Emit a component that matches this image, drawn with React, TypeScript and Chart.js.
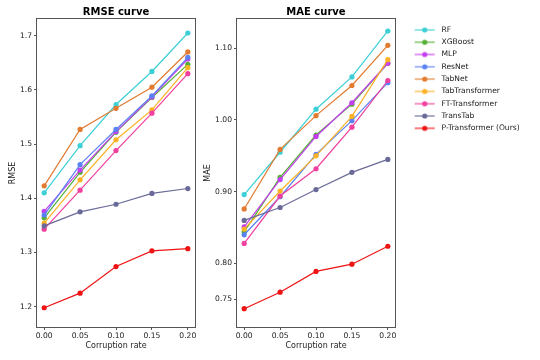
import React, { useEffect, useRef } from 'react';
import { Chart, registerables } from 'chart.js';

Chart.register(...registerables);

// ---------------- data ----------------
const corruptionRates = [0, 0.05, 0.1, 0.15, 0.2];
const xTickValues = [0, 0.05, 0.1, 0.15, 0.2];
const rmseTickValues = [1.2, 1.3, 1.4, 1.5, 1.6, 1.7];
const maeTickValues = [0.75, 0.8, 0.9, 1.0, 1.1];

const methodNames = [
  'RF',
  'XGBoost',
  'MLP',
  'ResNet',
  'TabNet',
  'TabTransformer',
  'FT-Transformer',
  'TransTab',
  'P-Transformer (Ours)',
];
const methodColors = [
  '#3ccfd6',
  '#55b035',
  '#c43ef0',
  '#5a82f2',
  '#e27b30',
  '#fbb123',
  '#f03f9f',
  '#6a6a99',
  '#ee1414',
];

const rmseRF = [1.410, 1.497, 1.573, 1.634, 1.705];
const rmseXGBoost = [1.364, 1.448, 1.522, 1.586, 1.647];
const rmseMLP = [1.376, 1.452, 1.523, 1.587, 1.657];
const rmseResNet = [1.369, 1.462, 1.527, 1.589, 1.660];
const rmseTabNet = [1.423, 1.527, 1.566, 1.605, 1.670];
const rmseTabTransformer = [1.354, 1.434, 1.508, 1.563, 1.641];
const rmseFTTransformer = [1.343, 1.415, 1.488, 1.557, 1.630];
const rmseTransTab = [1.349, 1.375, 1.389, 1.409, 1.418];
const rmsePTransformer = [1.198, 1.225, 1.274, 1.303, 1.307];

const maeRF = [0.896, 0.955, 1.015, 1.060, 1.124];
const maeXGBoost = [0.844, 0.920, 0.979, 1.022, 1.079];
const maeMLP = [0.851, 0.917, 0.977, 1.024, 1.079];
const maeResNet = [0.840, 0.893, 0.952, 0.999, 1.052];
const maeTabNet = [0.876, 0.959, 1.006, 1.048, 1.104];
const maeTabTransformer = [0.848, 0.901, 0.950, 1.005, 1.084];
const maeFTTransformer = [0.828, 0.894, 0.932, 0.990, 1.055];
const maeTransTab = [0.860, 0.878, 0.903, 0.927, 0.945];
const maePTransformer = [0.737, 0.760, 0.789, 0.799, 0.824];

const rmseSeries = [
  rmseRF, rmseXGBoost, rmseMLP, rmseResNet, rmseTabNet,
  rmseTabTransformer, rmseFTTransformer, rmseTransTab, rmsePTransformer,
];
const maeSeries = [
  maeRF, maeXGBoost, maeMLP, maeResNet, maeTabNet,
  maeTabTransformer, maeFTTransformer, maeTransTab, maePTransformer,
];

// ---------------- styling helpers ----------------
const FONT = 'DejaVu Sans';
const AXIS_COLOR = '#555';
const TEXT_COLOR = '#222';

function makeLegendHandle(color: string): HTMLCanvasElement {
  const c = document.createElement('canvas');
  c.width = 38;
  c.height = 8;
  const g = c.getContext('2d')!;
  g.globalAlpha = 0.55;
  g.strokeStyle = color;
  g.lineWidth = 2;
  g.beginPath();
  g.moveTo(15, 4);
  g.lineTo(35, 4);
  g.stroke();
  g.globalAlpha = 1;
  g.fillStyle = color;
  g.beginPath();
  g.arc(25, 4, 2.6, 0, Math.PI * 2);
  g.fill();
  return c;
}

const framePlugin = {
  id: 'frame',
  afterDatasetsDraw(chart: any) {
    const { ctx, chartArea: a } = chart;
    ctx.save();
    ctx.strokeStyle = AXIS_COLOR;
    ctx.lineWidth = 1;
    ctx.strokeRect(a.left - 0.5, a.top - 0.5, a.right - a.left + 1, a.bottom - a.top + 1);
    ctx.restore();
  },
};

function buildDatasets(series: number[][]) {
  return series.map((vals, i) => ({
    label: methodNames[i],
    data: vals.map((v, j) => ({ x: corruptionRates[j], y: v })),
    borderColor: methodColors[i],
    backgroundColor: methodColors[i],
    pointBackgroundColor: methodColors[i],
    pointBorderColor: methodColors[i],
    borderWidth: 1.2,
    pointRadius: 2.6,
    pointBorderWidth: 0,
    tension: 0,
    fill: false,
    order: series.length - 1 - i,
  }));
}

function buildConfig(opts: {
  title: string;
  yTitle: string;
  series: number[][];
  yMin: number;
  yMax: number;
  yTicks: number[];
  yDecimals: number;
  yTitlePadTop: number;
  legend: boolean;
  padRight: number;
}): any {
  const handles = methodColors.map((c) => makeLegendHandle(c));
  return {
    type: 'line',
    data: { datasets: buildDatasets(opts.series) },
    plugins: [framePlugin],
    options: {
      animation: false,
      responsive: false,
      maintainAspectRatio: false,
      devicePixelRatio: 1,
      layout: { padding: { left: 0, right: opts.padRight, top: 0, bottom: 0 } },
      plugins: {
        tooltip: { enabled: false },
        title: {
          display: true,
          text: opts.title,
          fullSize: false,
          color: '#000',
          font: { family: FONT, size: 10, weight: 'bold' },
          padding: { top: 6.7, bottom: 0.3 },
        },
        legend: opts.legend
          ? {
              display: true,
              position: 'right',
              align: 'start',
              fullSize: false,
              maxWidth: 130,
              title: {
                display: true,
                text: '',
                font: { family: FONT, size: 1 },
                padding: { top: 0.6, bottom: 0.6 },
              },
              labels: {
                usePointStyle: true,
                pointStyleWidth: 38,
                padding: 4.7,
                color: TEXT_COLOR,
                font: { family: FONT, size: 7.6 },
                sort: (a: any, b: any) => a.datasetIndex - b.datasetIndex,
                generateLabels: (chart: any) => {
                  const base = Chart.defaults.plugins.legend.labels.generateLabels(chart);
                  return base.map((item: any) => ({
                    ...item,
                    pointStyle: handles[item.datasetIndex],
                  }));
                },
              },
            }
          : { display: false },
      },
      scales: {
        x: {
          type: 'linear',
          min: -0.01,
          max: 0.21,
          afterBuildTicks: (s: any) => {
            s.ticks = xTickValues.map((v) => ({ value: v }));
          },
          afterFit: (s: any) => {
            s.height = 33;
          },
          ticks: {
            color: TEXT_COLOR,
            font: { family: FONT, size: 7.6 },
            padding: 1.5,
            maxRotation: 0,
            callback: (v: number) => Number(v).toFixed(2),
          },
          grid: {
            display: true,
            drawOnChartArea: false,
            drawTicks: true,
            tickLength: 3,
            tickColor: AXIS_COLOR,
            color: AXIS_COLOR,
          },
          border: { display: false },
          title: {
            display: true,
            text: 'Corruption rate',
            color: TEXT_COLOR,
            font: { family: FONT, size: 8 },
            padding: { top: 0, bottom: 9 },
          },
        },
        y: {
          type: 'linear',
          min: opts.yMin,
          max: opts.yMax,
          afterBuildTicks: (s: any) => {
            s.ticks = opts.yTicks.map((v) => ({ value: v }));
          },
          afterFit: (s: any) => {
            s.width = 37;
          },
          ticks: {
            color: TEXT_COLOR,
            font: { family: FONT, size: 7.6 },
            padding: 2,
            callback: (v: number) => Number(v).toFixed(opts.yDecimals),
          },
          grid: {
            display: true,
            drawOnChartArea: false,
            drawTicks: true,
            tickLength: 3,
            tickColor: AXIS_COLOR,
            color: AXIS_COLOR,
          },
          border: { display: false },
          title: {
            display: true,
            text: opts.yTitle,
            color: TEXT_COLOR,
            font: { family: FONT, size: 8 },
            padding: { top: opts.yTitlePadTop, bottom: 0 },
          },
        },
      },
    },
  };
}

export default function App() {
  const leftRef = useRef<HTMLCanvasElement>(null);
  const rightRef = useRef<HTMLCanvasElement>(null);

  useEffect(() => {
    const left = new Chart(
      leftRef.current!,
      buildConfig({
        title: 'RMSE curve',
        yTitle: 'RMSE',
        series: rmseSeries,
        yMin: 1.1625,
        yMax: 1.7308,
        yTicks: rmseTickValues,
        yDecimals: 1,
        yTitlePadTop: 7.9,
        legend: false,
        padRight: 5,
      })
    );
    const right = new Chart(
      rightRef.current!,
      buildConfig({
        title: 'MAE curve',
        yTitle: 'MAE',
        series: maeSeries,
        yMin: 0.7115,
        yMax: 1.1407,
        yTicks: maeTickValues,
        yDecimals: 2,
        yTitlePadTop: 2.7,
        legend: true,
        padRight: 15,
      })
    );
    return () => {
      left.destroy();
      right.destroy();
    };
  }, []);

  return (
    <div style={{ position: 'fixed', left: 0, top: 0, width: 540, height: 360, background: '#fff' }}>
      <canvas
        ref={leftRef}
        width={200}
        height={360}
        style={{ position: 'absolute', left: 0, top: 0, width: 200, height: 360 }}
      />
      <canvas
        ref={rightRef}
        width={340}
        height={360}
        style={{ position: 'absolute', left: 200, top: 0, width: 340, height: 360 }}
      />
    </div>
  );
}
